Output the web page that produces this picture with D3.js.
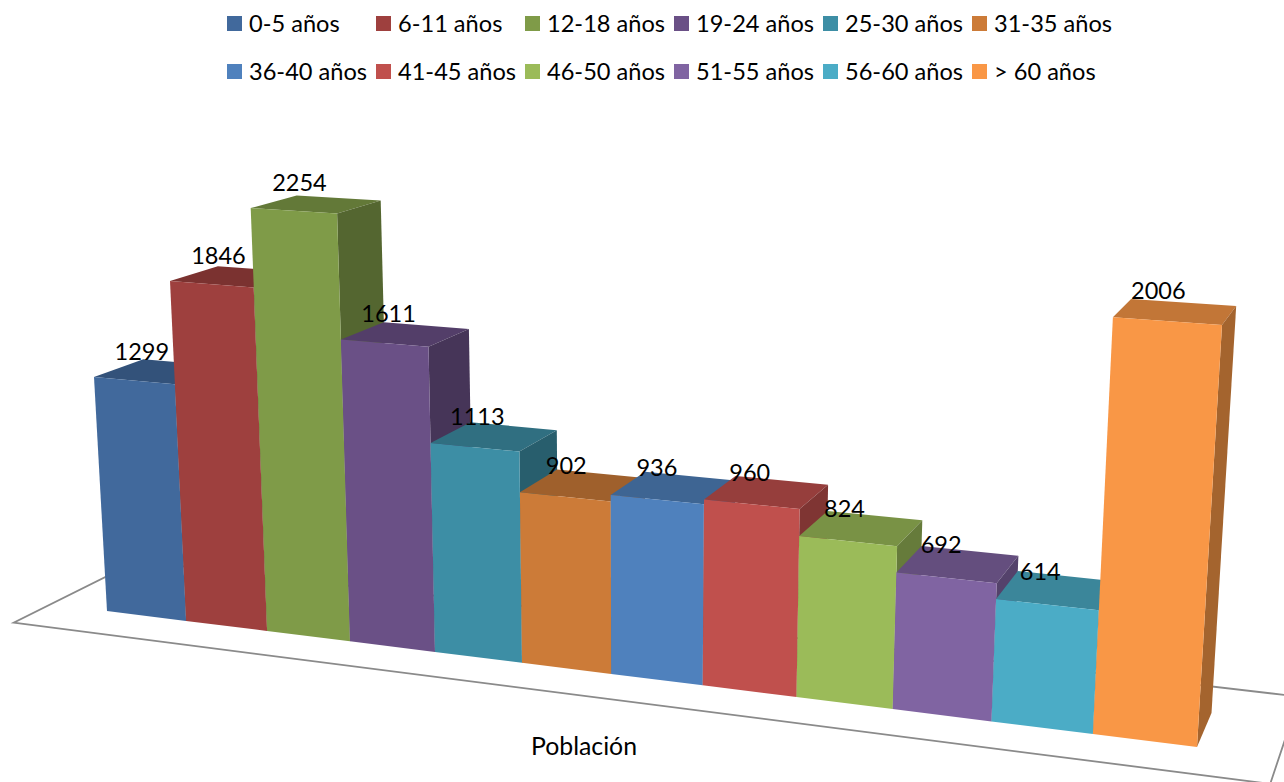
<!DOCTYPE html>
<html><head><meta charset="utf-8">
<style>html,body{margin:0;padding:0;background:#fff;overflow:hidden}svg{display:block}text{font-family:Lato,sans-serif;fill:#000}</style>
<script src="https://cdn.jsdelivr.net/npm/d3@7"></script></head><body><div id="c"></div>
<script>
const categories=["0-5 años","6-11 años","12-18 años","19-24 años","25-30 años","31-35 años","36-40 años","41-45 años","46-50 años","51-55 años","56-60 años","> 60 años"];
const values=[1299,1846,2254,1611,1113,902,936,960,824,692,614,2006];
const colors=["#41699C","#9E403E","#7F9B48","#6A5086","#3D8EA5","#CC7B38","#4F81BD","#C0504D","#9BBB59","#8064A2","#4BACC6","#F99746"];
const seriesName="Población";

const W=1284,H=782;
const svg=d3.select("#c").append("svg").attr("width",W).attr("height",H);

// world scales
const xScale=d3.scaleBand().domain(categories).range([0,12]).padding(0);
const yScale=d3.scaleLinear().domain([0,2254]).range([0,1]);

// perspective camera fitted to the picture
function solve(A,b){const n=b.length,M=A.map((r,i)=>[...r,b[i]]);
 for(let i=0;i<n;i++){let p=i;for(let r=i+1;r<n;r++)if(Math.abs(M[r][i])>Math.abs(M[p][i]))p=r;[M[i],M[p]]=[M[p],M[i]];
  for(let r=0;r<n;r++){if(r===i)continue;const f=M[r][i]/M[i][i];for(let c=i;c<=n;c++)M[r][c]-=f*M[i][c];}}
 return M.map((r,i)=>r[n]/r[i]);}
const anchors=[[0,yScale(0),107,611],[12,yScale(0),1197,747],[0,yScale(1299),94,377],[12,yScale(2006),1222,325]];
const A=[],B=[];
anchors.forEach(([u,v,x,y])=>{A.push([u,v,1,0,0,0,-u*x,-v*x]);B.push(x);A.push([0,0,0,u,v,1,-u*y,-v*y]);B.push(y);});
const h=solve(A,B);
const VP=[1585,-160];
const depthC=0.039*(h[6]*12+h[7]*yScale(2006)+1)/0.961;
function project(X,Y,Z){
 const wx=h[0]*X+h[1]*Y+h[2],wy=h[3]*X+h[4]*Y+h[5],w=h[6]*X+h[7]*Y+1;
 const c=Z*depthC;
 return [(wx+c*VP[0])/(w+c),(wy+c*VP[1])/(w+c)];
}
const poly=pts=>pts.map(p=>p.map(d=>d.toFixed(1)).join(",")).join(" ");
const shade=(col,f)=>{const c=d3.rgb(col);return d3.rgb(c.r*f,c.g*f,c.b*f).formatHex();};

// floor
const floor=[[-0.72,-0.72],[12.77,-0.72],[12.77,1.8],[-0.72,1.8]];
svg.append("polygon").attr("points",poly(floor.map(([x,z])=>project(x,0,z))))
 .attr("fill","none").attr("stroke","#8a8a8a").attr("stroke-width",1.8);

// bars
const bars=svg.selectAll("g.bar").data(categories.map((c,i)=>({c,v:values[i],col:colors[i]}))).join("g").attr("class","bar");
bars.each(function(d){
 const g=d3.select(this),x0=xScale(d.c),x1=x0+xScale.bandwidth(),y=yScale(d.v);
 g.append("polygon").attr("points",poly([project(x0,y,0),project(x1,y,0),project(x1,y,1),project(x0,y,1)])).attr("fill",shade(d.col,0.78));
 g.append("polygon").attr("points",poly([project(x1,0,0),project(x1,y,0),project(x1,y,1),project(x1,0,1)])).attr("fill",shade(d.col,0.66));
 g.append("polygon").attr("points",poly([project(x0,0,0),project(x1,0,0),project(x1,y,0),project(x0,y,0)])).attr("fill",d.col);
});

// value labels
svg.selectAll("text.val").data(categories.map((c,i)=>({c,v:values[i]}))).join("text").attr("class","val")
 .attr("text-anchor","middle").attr("font-size",23.5)
 .attr("x",d=>project(xScale(d.c)+xScale.bandwidth()/2,yScale(d.v),0.5)[0]-17)
 .attr("y",d=>project(xScale(d.c)+xScale.bandwidth()/2,yScale(d.v),0.5)[1]-9.5-4*yScale(d.v))
 .text(d=>d.v);

// legend
const legCol=d3.scaleLinear().domain([0,1]).range([227,376]);
const legRow=d3.scaleLinear().domain([0,1]).range([16,64]);
const leg=svg.selectAll("g.leg").data(categories).join("g").attr("class","leg")
 .attr("transform",(d,i)=>`translate(${legCol(i%6)},${legRow(Math.floor(i/6))})`);
leg.append("rect").attr("width",15).attr("height",15).attr("fill",(d,i)=>colors[i]);
leg.append("text").attr("x",22).attr("y",15.5).attr("font-size",23.6).text(d=>d);

svg.append("text").attr("x",584).attr("y",755).attr("text-anchor","middle").attr("font-size",24.8).text(seriesName);
</script></body></html>
